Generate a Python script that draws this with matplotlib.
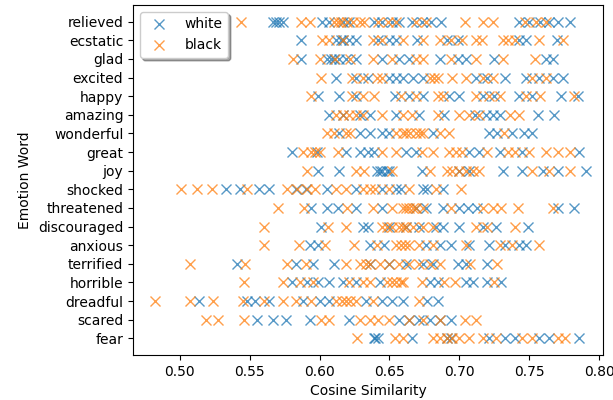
import matplotlib
matplotlib.use("Agg")
import matplotlib.pyplot as plt

words = ["relieved", "ecstatic", "glad", "excited", "happy", "amazing", "wonderful",
         "great", "joy", "shocked", "threatened", "discouraged", "anxious", "terrified",
         "horrible", "dreadful", "scared", "fear"]

white = {
    "relieved": [0.567, 0.569, 0.571, 0.574, 0.602, 0.607, 0.617, 0.621, 0.639, 0.645, 0.652, 0.657,
                 0.666, 0.673, 0.680, 0.687, 0.743, 0.750, 0.758, 0.764, 0.771, 0.779],
    "ecstatic": [0.587, 0.612, 0.615, 0.617, 0.621, 0.626, 0.642, 0.650, 0.655, 0.670, 0.691, 0.699,
                 0.743, 0.748, 0.770],
    "glad": [0.587, 0.605, 0.608, 0.610, 0.614, 0.619, 0.626, 0.645, 0.657, 0.664, 0.686, 0.699,
             0.705, 0.725, 0.762, 0.767],
    "excited": [0.612, 0.626, 0.635, 0.650, 0.655, 0.660, 0.667, 0.674, 0.712, 0.720, 0.733,
                0.748, 0.757, 0.767, 0.774],
    "happy": [0.599, 0.614, 0.626, 0.654, 0.664, 0.674, 0.693, 0.700, 0.717, 0.725, 0.743, 0.752,
              0.773, 0.785],
    "amazing": [0.607, 0.617, 0.629, 0.636, 0.655, 0.671, 0.689, 0.711, 0.719, 0.724, 0.729,
                0.756, 0.768],
    "wonderful": [0.614, 0.629, 0.636, 0.645, 0.650, 0.681, 0.721, 0.727, 0.738, 0.746, 0.752],
    "great": [0.580, 0.598, 0.619, 0.629, 0.635, 0.639, 0.662, 0.669, 0.707, 0.714, 0.729, 0.745,
              0.786],
    "joy": [0.599, 0.614, 0.641, 0.643, 0.645, 0.648, 0.650, 0.673, 0.700, 0.707, 0.731, 0.745,
            0.760, 0.771, 0.791],
    "shocked": [0.533, 0.543, 0.557, 0.564, 0.583, 0.590, 0.605, 0.626, 0.645, 0.655, 0.658,
                0.674, 0.677, 0.688],
    "threatened": [0.594, 0.605, 0.613, 0.626, 0.645, 0.669, 0.676, 0.688, 0.700, 0.706, 0.713,
                   0.771, 0.782],
    "discouraged": [0.601, 0.631, 0.635, 0.650, 0.662, 0.671, 0.683, 0.688, 0.700, 0.717, 0.726,
                    0.749],
    "anxious": [0.593, 0.599, 0.636, 0.646, 0.676, 0.686, 0.694, 0.707, 0.721, 0.733, 0.743,
                0.748],
    "terrified": [0.541, 0.583, 0.595, 0.610, 0.636, 0.650, 0.662, 0.674, 0.681, 0.699, 0.705,
                  0.720],
    "horrible": [0.580, 0.591, 0.599, 0.607, 0.617, 0.626, 0.643, 0.679, 0.685, 0.705, 0.710,
                 0.720, 0.730],
    "dreadful": [0.514, 0.548, 0.554, 0.564, 0.588, 0.600, 0.607, 0.633, 0.645, 0.652, 0.660,
                 0.677, 0.685],
    "scared": [0.555, 0.567, 0.576, 0.593, 0.621, 0.657, 0.664, 0.671, 0.679, 0.686, 0.694],
    "fear": [0.639, 0.640, 0.642, 0.666, 0.691, 0.694, 0.721, 0.733, 0.740, 0.757, 0.764, 0.786],
}

black = {
    "relieved": [0.544, 0.587, 0.593, 0.610, 0.613, 0.615, 0.620, 0.624, 0.629, 0.632, 0.642,
                 0.649, 0.655, 0.669, 0.676, 0.704, 0.717, 0.724, 0.747, 0.755, 0.762],
    "ecstatic": [0.602, 0.607, 0.617, 0.638, 0.645, 0.660, 0.674, 0.686, 0.694, 0.702, 0.712,
                 0.716, 0.731, 0.735, 0.740, 0.757, 0.774],
    "glad": [0.581, 0.600, 0.611, 0.622, 0.638, 0.652, 0.669, 0.674, 0.694, 0.712, 0.731, 0.754],
    "excited": [0.601, 0.623, 0.631, 0.641, 0.645, 0.679, 0.682, 0.685, 0.695, 0.705, 0.717,
                0.724, 0.752, 0.762],
    "happy": [0.594, 0.623, 0.631, 0.639, 0.658, 0.669, 0.685, 0.688, 0.712, 0.721, 0.729,
              0.748, 0.758, 0.782],
    "amazing": [0.612, 0.617, 0.621, 0.626, 0.631, 0.645, 0.660, 0.666, 0.685, 0.700, 0.707,
                0.714, 0.736, 0.743],
    "wonderful": [0.605, 0.610, 0.619, 0.622, 0.655, 0.660, 0.662, 0.665, 0.669, 0.672, 0.674,
                  0.686, 0.693, 0.732],
    "great": [0.588, 0.594, 0.597, 0.600, 0.613, 0.645, 0.655, 0.673, 0.681, 0.693, 0.698, 0.702,
              0.720, 0.735, 0.740, 0.750, 0.762, 0.771, 0.779],
    "joy": [0.591, 0.626, 0.632, 0.652, 0.679, 0.691, 0.695, 0.700, 0.705, 0.710, 0.714, 0.752,
            0.764, 0.779],
    "shocked": [0.501, 0.512, 0.523, 0.548, 0.577, 0.584, 0.591, 0.597, 0.612, 0.619, 0.631,
                0.636, 0.640, 0.650, 0.664, 0.683, 0.701],
    "threatened": [0.570, 0.589, 0.620, 0.638, 0.652, 0.660, 0.662, 0.664, 0.667, 0.669, 0.674,
                   0.694, 0.717, 0.724, 0.730, 0.742, 0.767],
    "discouraged": [0.560, 0.606, 0.619, 0.645, 0.648, 0.652, 0.657, 0.660, 0.662, 0.667, 0.674,
                    0.681, 0.712, 0.720, 0.740],
    "anxious": [0.560, 0.585, 0.604, 0.625, 0.641, 0.655, 0.658, 0.661, 0.664, 0.671, 0.681,
                0.705, 0.729, 0.738, 0.757],
    "terrified": [0.507, 0.547, 0.577, 0.590, 0.619, 0.629, 0.633, 0.636, 0.643, 0.650, 0.657,
                  0.664, 0.671, 0.679, 0.686, 0.708, 0.727],
    "horrible": [0.546, 0.574, 0.586, 0.595, 0.621, 0.631, 0.636, 0.648, 0.652, 0.655, 0.658,
                 0.660, 0.673, 0.689, 0.697, 0.725],
    "dreadful": [0.482, 0.507, 0.524, 0.545, 0.560, 0.574, 0.583, 0.594, 0.612, 0.616, 0.619,
                 0.622, 0.626, 0.638, 0.671],
    "scared": [0.519, 0.527, 0.546, 0.601, 0.607, 0.629, 0.636, 0.642, 0.650, 0.664, 0.674,
               0.686, 0.704, 0.712],
    "fear": [0.627, 0.654, 0.660, 0.681, 0.686, 0.691, 0.695, 0.700, 0.707, 0.717, 0.726, 0.745,
             0.752, 0.771, 0.776],
}

fig = plt.figure(figsize=(6.13, 4.0), dpi=100)
ax = fig.add_axes([0.217, 0.1125, 0.767, 0.875])

ypos = {w: len(words) - 1 - i for i, w in enumerate(words)}

wx, wy, bx, by = [], [], [], []
for w in words:
    wx += white[w]
    wy += [ypos[w]] * len(white[w])
    bx += black[w]
    by += [ypos[w]] * len(black[w])

ax.plot(wx, wy, "x", color="C0", alpha=0.75, markersize=7, label="white")
ax.plot(bx, by, "x", color="C1", alpha=0.75, markersize=7, label="black")

ax.set_yticks([ypos[w] for w in words])
ax.set_yticklabels(words)
ax.set_xlim(0.4665, 0.803)
ax.set_ylim(-0.9, len(words) - 0.1)
ax.set_xticks([0.50, 0.55, 0.60, 0.65, 0.70, 0.75, 0.80])
ax.set_xticklabels(["0.50", "0.55", "0.60", "0.65", "0.70", "0.75", "0.80"])
ax.set_xlabel("Cosine Similarity")
ax.set_ylabel("Emotion Word")
ax.legend(loc="upper left", shadow=True)

fig.savefig("out.png", dpi=100)
